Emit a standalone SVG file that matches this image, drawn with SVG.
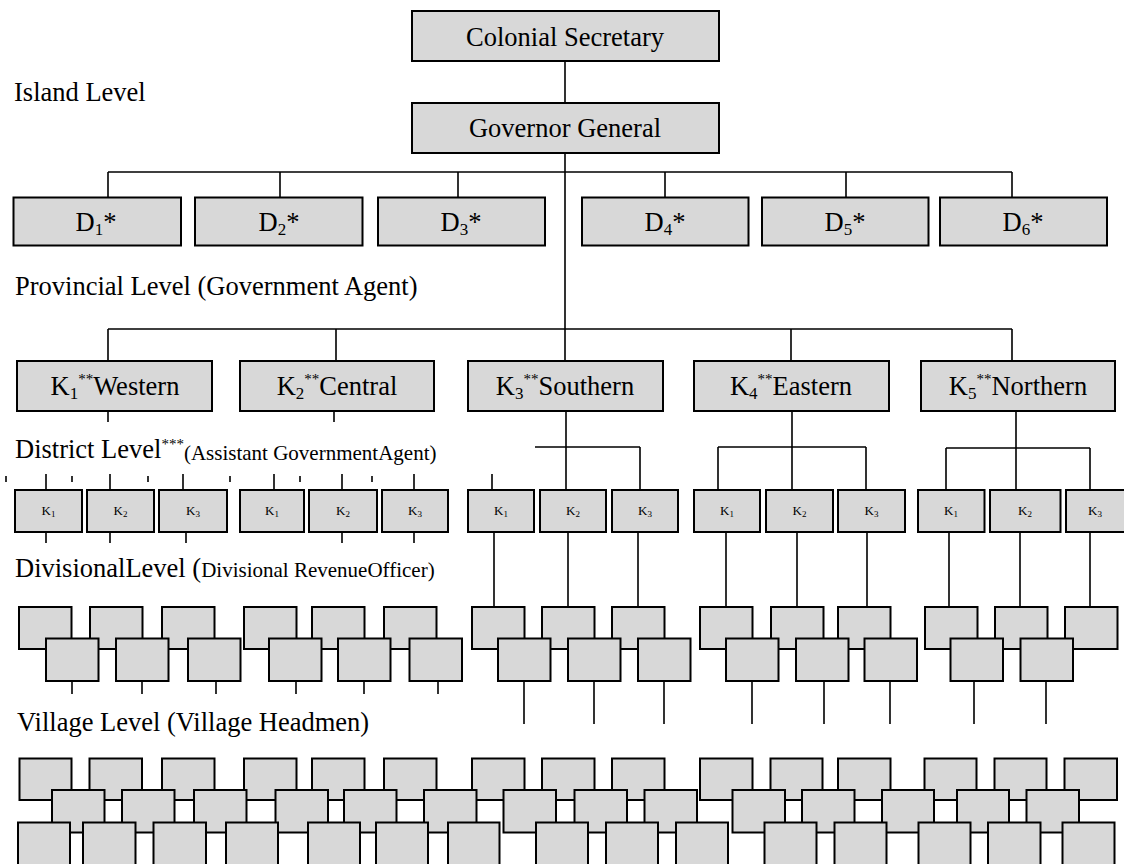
<svg xmlns="http://www.w3.org/2000/svg" width="1124" height="864" viewBox="0 0 1124 864">
<style>
.box{fill:#d8d8d8;stroke:#000;stroke-width:2}
.ln{stroke:#000;stroke-width:1.6;fill:none}
text{font-family:"Liberation Serif","Times New Roman",serif;fill:#000}
.t{font-size:26.5px}
.c{text-anchor:middle}
.s{font-size:13px;text-anchor:middle}
</style>
<rect x="0" y="0" width="1124" height="864" fill="#fff"/>
<g id="connectors" class="ln">
<path d="M565,61V103M565,153V361"/>
<path d="M108,172H1012M108,172V198M280,172V198M458,172V198M665,172V198M846,172V198M1012,172V198"/>
<path d="M108,329H1012M108,329V361M336,329V361M791,329V361M1012,329V361"/>
<path d="M108,411V422M334,411V422"/>
<path d="M46,474V490M110,474V490M183,474V490M274,474V490M342,474V490M414,474V490"/>
<path d="M6,476V482M72,476V482M148,476V482M230,476V482M300,476V482M372,476V482"/>
<path d="M566,411V490M535,447H640M640,447V490M492,474V490"/>
<path d="M792,411V490M718,447H866M718,447V490M866,447V490"/>
<path d="M1016,411V490M946,448H1090M946,448V490M1090,448V490"/>
<path d="M46,532V543M110,532V543M186,532V543M342,532V543M414,532V543"/>
<path d="M494,532V607M568,532V607M638,532V607M726,532V607M797,532V607M867,532V607M949,532V607M1020,532V607M1090,532V607"/>
<path d="M72,681V694M142,681V694M216,681V694M296,681V694M364,681V694M438,681V694"/>
<path d="M524,681V724M594,681V724M664,681V724M752,681V724M824,681V724M890,681V724M974,681V724M1046,681V724"/>
</g>
<g id="labels">
<text class="t" x="14" y="101">Island Level</text>
<text class="t" x="15" y="295">Provincial Level (Government Agent)</text>
<text class="t" x="15" y="458">District Level<tspan font-size="15" dy="-9">***</tspan><tspan font-size="21" dy="11">(Assistant GovernmentAgent)</tspan></text>
<text class="t" x="15" y="577">DivisionalLevel (<tspan font-size="21">Divisional RevenueOfficer)</tspan></text>
<text class="t" x="17" y="731">Village Level (Village Headmen)</text>
</g>
<g id="colonial"><rect class="box" x="412" y="11" width="307" height="50"/><text class="t c" x="565" y="46">Colonial Secretary</text></g>
<g id="governor"><rect class="box" x="412" y="103" width="307" height="50"/><text class="t c" x="565" y="137">Governor General</text></g>
<g id="d1"><rect class="box" x="13.5" y="197.5" width="167.5" height="48"/><text class="t c" x="96" y="231">D<tspan font-size="17" dy="4">1</tspan><tspan dy="-4">*</tspan></text></g>
<g id="d2"><rect class="box" x="195" y="197.5" width="167.5" height="48"/><text class="t c" x="279" y="231">D<tspan font-size="17" dy="4">2</tspan><tspan dy="-4">*</tspan></text></g>
<g id="d3"><rect class="box" x="378" y="197.5" width="167" height="48"/><text class="t c" x="461" y="231">D<tspan font-size="17" dy="4">3</tspan><tspan dy="-4">*</tspan></text></g>
<g id="d4"><rect class="box" x="582" y="197.5" width="166.5" height="48"/><text class="t c" x="665" y="231">D<tspan font-size="17" dy="4">4</tspan><tspan dy="-4">*</tspan></text></g>
<g id="d5"><rect class="box" x="762" y="197.5" width="166.5" height="48"/><text class="t c" x="845" y="231">D<tspan font-size="17" dy="4">5</tspan><tspan dy="-4">*</tspan></text></g>
<g id="d6"><rect class="box" x="940" y="197.5" width="167" height="48"/><text class="t c" x="1023" y="231">D<tspan font-size="17" dy="4">6</tspan><tspan dy="-4">*</tspan></text></g>
<g id="k1"><rect class="box" x="17" y="361" width="195" height="50"/><text class="t c" x="115" y="395">K<tspan font-size="17" dy="4">1</tspan><tspan font-size="15" dy="-15">**</tspan><tspan dy="11">Western</tspan></text></g>
<g id="k2"><rect class="box" x="240" y="361" width="194" height="50"/><text class="t c" x="337" y="395">K<tspan font-size="17" dy="4">2</tspan><tspan font-size="15" dy="-15">**</tspan><tspan dy="11">Central</tspan></text></g>
<g id="k3"><rect class="box" x="468" y="361" width="195" height="50"/><text class="t c" x="565" y="395">K<tspan font-size="17" dy="4">3</tspan><tspan font-size="15" dy="-15">**</tspan><tspan dy="11">Southern</tspan></text></g>
<g id="k4"><rect class="box" x="694" y="361" width="195" height="50"/><text class="t c" x="791" y="395">K<tspan font-size="17" dy="4">4</tspan><tspan font-size="15" dy="-15">**</tspan><tspan dy="11">Eastern</tspan></text></g>
<g id="k5"><rect class="box" x="921" y="361" width="194" height="50"/><text class="t c" x="1018" y="395">K<tspan font-size="17" dy="4">5</tspan><tspan font-size="15" dy="-15">**</tspan><tspan dy="11">Northern</tspan></text></g>
<g id="s1"><rect class="box" x="15" y="490" width="67" height="42"/><text class="s" x="48.5" y="515">K<tspan font-size="9" dy="2">1</tspan></text></g>
<g id="s2"><rect class="box" x="87" y="490" width="67" height="42"/><text class="s" x="120.5" y="515">K<tspan font-size="9" dy="2">2</tspan></text></g>
<g id="s3"><rect class="box" x="159" y="490" width="68" height="42"/><text class="s" x="193" y="515">K<tspan font-size="9" dy="2">3</tspan></text></g>
<g id="s4"><rect class="box" x="240" y="490" width="64" height="42"/><text class="s" x="272" y="515">K<tspan font-size="9" dy="2">1</tspan></text></g>
<g id="s5"><rect class="box" x="309" y="490" width="68" height="42"/><text class="s" x="343" y="515">K<tspan font-size="9" dy="2">2</tspan></text></g>
<g id="s6"><rect class="box" x="382" y="490" width="66" height="42"/><text class="s" x="415" y="515">K<tspan font-size="9" dy="2">3</tspan></text></g>
<g id="s7"><rect class="box" x="468" y="490" width="66" height="42"/><text class="s" x="501" y="515">K<tspan font-size="9" dy="2">1</tspan></text></g>
<g id="s8"><rect class="box" x="540" y="490" width="66" height="42"/><text class="s" x="573" y="515">K<tspan font-size="9" dy="2">2</tspan></text></g>
<g id="s9"><rect class="box" x="612" y="490" width="66" height="42"/><text class="s" x="645" y="515">K<tspan font-size="9" dy="2">3</tspan></text></g>
<g id="s10"><rect class="box" x="694" y="490" width="66" height="42"/><text class="s" x="727" y="515">K<tspan font-size="9" dy="2">1</tspan></text></g>
<g id="s11"><rect class="box" x="766" y="490" width="67" height="42"/><text class="s" x="799.5" y="515">K<tspan font-size="9" dy="2">2</tspan></text></g>
<g id="s12"><rect class="box" x="838" y="490" width="67" height="42"/><text class="s" x="871.5" y="515">K<tspan font-size="9" dy="2">3</tspan></text></g>
<g id="s13"><rect class="box" x="918" y="490" width="66.5" height="42"/><text class="s" x="951" y="515">K<tspan font-size="9" dy="2">1</tspan></text></g>
<g id="s14"><rect class="box" x="990" y="490" width="70.5" height="42"/><text class="s" x="1025" y="515">K<tspan font-size="9" dy="2">2</tspan></text></g>
<g id="s15"><rect class="box" x="1066" y="490" width="68" height="42"/><text class="s" x="1095" y="515">K<tspan font-size="9" dy="2">3</tspan></text></g>
<g id="div-upper">
<g id="du1"><rect class="box" x="19" y="607" width="52.5" height="42"/></g>
<g id="du2"><rect class="box" x="90" y="607" width="52.5" height="42"/></g>
<g id="du3"><rect class="box" x="162" y="607" width="52.5" height="42"/></g>
<g id="du4"><rect class="box" x="244" y="607" width="52.5" height="42"/></g>
<g id="du5"><rect class="box" x="312" y="607" width="52.5" height="42"/></g>
<g id="du6"><rect class="box" x="384" y="607" width="52.5" height="42"/></g>
<g id="du7"><rect class="box" x="472" y="607" width="52.5" height="42"/></g>
<g id="du8"><rect class="box" x="542" y="607" width="52.5" height="42"/></g>
<g id="du9"><rect class="box" x="612" y="607" width="52.5" height="42"/></g>
<g id="du10"><rect class="box" x="700" y="607" width="52.5" height="42"/></g>
<g id="du11"><rect class="box" x="771" y="607" width="52.5" height="42"/></g>
<g id="du12"><rect class="box" x="838" y="607" width="52.5" height="42"/></g>
<g id="du13"><rect class="box" x="925" y="607" width="52.5" height="42"/></g>
<g id="du14"><rect class="box" x="995" y="607" width="52.5" height="42"/></g>
<g id="du15"><rect class="box" x="1065" y="607" width="52.5" height="42"/></g>
</g>
<g id="div-lower">
<g id="dl1"><rect class="box" x="46" y="638.5" width="52.5" height="42.5"/></g>
<g id="dl2"><rect class="box" x="116" y="638.5" width="52.5" height="42.5"/></g>
<g id="dl3"><rect class="box" x="188" y="638.5" width="52.5" height="42.5"/></g>
<g id="dl4"><rect class="box" x="269" y="638.5" width="52.5" height="42.5"/></g>
<g id="dl5"><rect class="box" x="338" y="638.5" width="52.5" height="42.5"/></g>
<g id="dl6"><rect class="box" x="409.5" y="638.5" width="52.5" height="42.5"/></g>
<g id="dl7"><rect class="box" x="498" y="638.5" width="52.5" height="42.5"/></g>
<g id="dl8"><rect class="box" x="568" y="638.5" width="52.5" height="42.5"/></g>
<g id="dl9"><rect class="box" x="638" y="638.5" width="52.5" height="42.5"/></g>
<g id="dl10"><rect class="box" x="726" y="638.5" width="52.5" height="42.5"/></g>
<g id="dl11"><rect class="box" x="796" y="638.5" width="52.5" height="42.5"/></g>
<g id="dl12"><rect class="box" x="864.5" y="638.5" width="52.5" height="42.5"/></g>
<g id="dl13"><rect class="box" x="950.5" y="638.5" width="52.5" height="42.5"/></g>
<g id="dl14"><rect class="box" x="1020.5" y="638.5" width="52.5" height="42.5"/></g>
</g>
<g id="vil-row1">
<g id="v1-1"><rect class="box" x="19.5" y="758.5" width="52" height="41.5"/></g>
<g id="v1-2"><rect class="box" x="89.5" y="758.5" width="52.5" height="41.5"/></g>
<g id="v1-3"><rect class="box" x="162" y="758.5" width="52.5" height="41.5"/></g>
<g id="v1-4"><rect class="box" x="244" y="758.5" width="52.5" height="41.5"/></g>
<g id="v1-5"><rect class="box" x="312" y="758.5" width="52.5" height="41.5"/></g>
<g id="v1-6"><rect class="box" x="384" y="758.5" width="52.5" height="41.5"/></g>
<g id="v1-7"><rect class="box" x="472" y="758.5" width="52.5" height="41.5"/></g>
<g id="v1-8"><rect class="box" x="542" y="758.5" width="52.5" height="41.5"/></g>
<g id="v1-9"><rect class="box" x="612" y="758.5" width="52.5" height="41.5"/></g>
<g id="v1-10"><rect class="box" x="700" y="758.5" width="52.5" height="41.5"/></g>
<g id="v1-11"><rect class="box" x="770.5" y="758.5" width="52" height="41.5"/></g>
<g id="v1-12"><rect class="box" x="838" y="758.5" width="52.5" height="41.5"/></g>
<g id="v1-13"><rect class="box" x="924.5" y="758.5" width="52" height="41.5"/></g>
<g id="v1-14"><rect class="box" x="994.5" y="758.5" width="52" height="41.5"/></g>
<g id="v1-15"><rect class="box" x="1064.5" y="758.5" width="52.5" height="41.5"/></g>
</g>
<g id="vil-row2">
<g id="v2-1"><rect class="box" x="52" y="790" width="52.5" height="42.5"/></g>
<g id="v2-2"><rect class="box" x="122" y="790" width="52.5" height="42.5"/></g>
<g id="v2-3"><rect class="box" x="194" y="790" width="52.5" height="42.5"/></g>
<g id="v2-4"><rect class="box" x="275.5" y="790" width="52.5" height="42.5"/></g>
<g id="v2-5"><rect class="box" x="344" y="790" width="52.5" height="42.5"/></g>
<g id="v2-6"><rect class="box" x="424" y="790" width="52.5" height="42.5"/></g>
<g id="v2-7"><rect class="box" x="503.5" y="790" width="52.5" height="42.5"/></g>
<g id="v2-8"><rect class="box" x="574.5" y="790" width="52.5" height="42.5"/></g>
<g id="v2-9"><rect class="box" x="644.5" y="790" width="52.5" height="42.5"/></g>
<g id="v2-10"><rect class="box" x="732.5" y="790" width="52.5" height="42.5"/></g>
<g id="v2-11"><rect class="box" x="802" y="790" width="52.5" height="42.5"/></g>
<g id="v2-12"><rect class="box" x="882" y="790" width="52" height="42.5"/></g>
<g id="v2-13"><rect class="box" x="957" y="790" width="52" height="42.5"/></g>
<g id="v2-14"><rect class="box" x="1026.5" y="790" width="52.5" height="42.5"/></g>
</g>
<g id="vil-row3">
<g id="v3-1"><rect class="box" x="18" y="822.5" width="52" height="44"/></g>
<g id="v3-2"><rect class="box" x="83" y="822.5" width="52.5" height="44"/></g>
<g id="v3-3"><rect class="box" x="153.5" y="822.5" width="52.5" height="44"/></g>
<g id="v3-4"><rect class="box" x="226" y="822.5" width="52" height="44"/></g>
<g id="v3-5"><rect class="box" x="308" y="822.5" width="52" height="44"/></g>
<g id="v3-6"><rect class="box" x="376" y="822.5" width="52" height="44"/></g>
<g id="v3-7"><rect class="box" x="448" y="822.5" width="51.5" height="44"/></g>
<g id="v3-8"><rect class="box" x="536" y="822.5" width="52" height="44"/></g>
<g id="v3-9"><rect class="box" x="606" y="822.5" width="52" height="44"/></g>
<g id="v3-10"><rect class="box" x="676" y="822.5" width="52" height="44"/></g>
<g id="v3-11"><rect class="box" x="764.5" y="822.5" width="52" height="44"/></g>
<g id="v3-12"><rect class="box" x="834.5" y="822.5" width="52" height="44"/></g>
<g id="v3-13"><rect class="box" x="918.5" y="822.5" width="52" height="44"/></g>
<g id="v3-14"><rect class="box" x="988" y="822.5" width="52.5" height="44"/></g>
<g id="v3-15"><rect class="box" x="1062.5" y="822.5" width="52" height="44"/></g>
</g>
</svg>
